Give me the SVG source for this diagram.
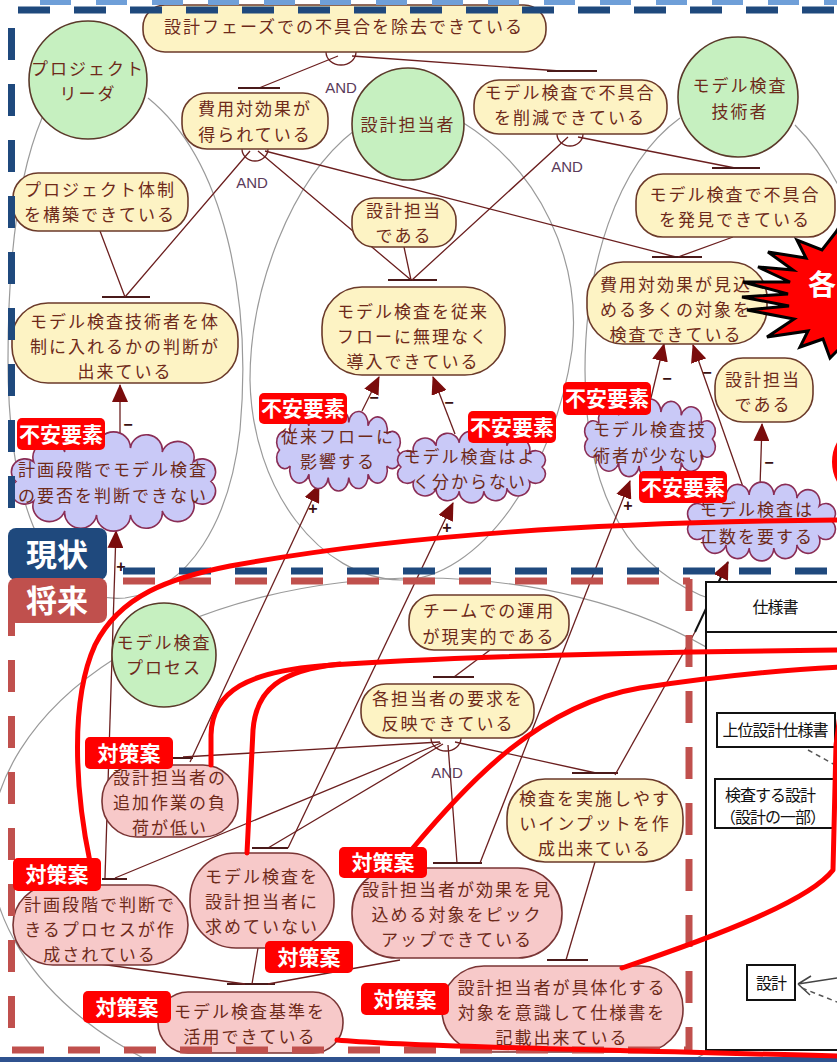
<svg xmlns="http://www.w3.org/2000/svg" xmlns:xlink="http://www.w3.org/1999/xlink" width="837" height="1062" viewBox="0 0 837 1062">
<style>
.g{fill:#fdf3c4;stroke:#6b3a2a;stroke-width:1.6}
.p{fill:#f7c9c9;stroke:#7a3535;stroke-width:1.6}
.c{fill:#c9c9f7;stroke:#8a2d55;stroke-width:1.6}
.a{fill:#c6f0c0;stroke:#5a3a2a;stroke-width:1.6}
.t{font-family:"Noto Sans CJK JP","Noto Sans",sans-serif;font-size:17px;fill:#6e2a1a;text-anchor:middle;letter-spacing:2px}
.bd{fill:none;stroke:#9a9a9a;stroke-width:1.2}
.ln{fill:none;stroke:#6b1f1f;stroke-width:1.3}
.bar{stroke:#4a1a1a;stroke-width:1.8}
.ct{fill:none;stroke:#6b1f1f;stroke-width:1.3;marker-end:url(#arr)}
.and{font-family:"Liberation Sans",sans-serif;font-size:15px;fill:#5a3a5a;text-anchor:middle}
.tk{font-family:"Liberation Sans",sans-serif;font-size:16px;font-weight:bold;fill:#3a1010;text-anchor:middle}
.red{fill:none;stroke:#ff0000;stroke-width:5;stroke-linecap:round;stroke-linejoin:round}
.lb{fill:#ff0000}
.lt{font-family:"Noto Sans CJK JP",sans-serif;font-size:21px;font-weight:bold;fill:#fff;text-anchor:middle}
.bl{stroke:#1f497d;stroke-width:7;stroke-dasharray:32 24;fill:none}
.rb{stroke:#c0504d;stroke-width:7;stroke-dasharray:32 24;fill:none}
.st{font-family:"Noto Sans CJK JP",sans-serif;font-size:16px;fill:#111;letter-spacing:-1px}
</style>
<defs>
<marker id="arr" viewBox="0 0 18 16" refX="17" refY="8" markerWidth="18" markerHeight="16" markerUnits="userSpaceOnUse" orient="auto"><path d="M0,0 L18,8 L0,16 Z" fill="#7a0c0c"/></marker>
<path id="cloud" vector-effect="non-scaling-stroke" d="M 196 50 A 1 1 0 0 1 178.6 70.1 A 1 1 0 0 1 148 80.3 A 1 1 0 0 1 116.7 84.5 A 1 1 0 0 1 83.3 84.5 A 1 1 0 0 1 52 80.3 A 1 1 0 0 1 21.4 70.1 A 1 1 0 0 1 4 50 A 1 1 0 0 1 21.4 29.9 A 1 1 0 0 1 52 19.7 A 1 1 0 0 1 83.3 15.5 A 1 1 0 0 1 116.7 15.5 A 1 1 0 0 1 148 19.7 A 1 1 0 0 1 178.6 29.9 A 1 1 0 0 1 196 50 Z"/>
</defs>
<rect x="0" y="0" width="837" height="1062" fill="#fff"/>

<g id="boundaries">
<path class="bd" d="M 148 98 C 225 160, 252 300, 240 430 C 230 520, 190 590, 125 598 C 55 605, 8 520, 8 360 C 8 250, 20 170, 42 118"/>
<path class="bd" d="M 355 130 C 290 180, 250 290, 250 380 C 252 490, 320 578, 400 580 C 480 580, 555 470, 572 350 C 582 260, 540 170, 462 122"/>
<path class="bd" d="M 680 118 C 615 165, 585 270, 585 370 C 585 480, 620 560, 700 595 C 760 620, 837 610, 900 560"/>
<path class="bd" d="M 795 125 C 820 150, 837 180, 850 210"/>
<ellipse class="bd" cx="420" cy="850" rx="430" ry="272"/>
</g>

<g id="connectors">
<path class="ln" d="M 326 52 A 15 13 0 0 0 356 52"/>
<path class="ln" d="M 338 56 L 259 88 M 352 56 L 560 71"/>
<path class="bar" d="M 238 88 H 280 M 547 71 H 597"/>
<path class="ln" d="M 242 149 A 13 12 0 0 0 268 149"/>
<path class="ln" d="M 250 151 L 125 297 M 258 151 L 411 280 M 265 151 L 676 257"/>
<path class="bar" d="M 102 297 H 150 M 388 280 H 437 M 652 257 H 702"/>
<path class="ln" d="M 100 231 L 125 297 M 404 247 L 411 280"/>
<path class="ln" d="M 557 134 A 13 12 0 0 0 583 134"/>
<path class="ln" d="M 568 137 L 412 280 M 578 137 L 735 168 M 733 237 L 678 257"/>
<path class="bar" d="M 712 168 H 760"/>
<path class="ln" d="M 490 650 L 454 677"/>
<path class="bar" d="M 433 677 H 474"/>
<path class="ln" d="M 431 738 A 15 13 0 0 0 461 738"/>
<path class="ln" d="M 440 742 L 183 757 M 441 743 L 115 878 M 443 744 L 268 848 M 448 745 L 457 863 M 455 742 L 596 773"/>
<path class="bar" d="M 173 758 H 193 M 102 879 H 127 M 252 848 H 288 M 433 863 H 482 M 572 773 H 618"/>
<path class="ln" d="M 595 862 L 566 960"/>
<path class="bar" d="M 547 960 H 588 M 227 984 H 275"/>
<path class="ln" d="M 100 964 L 245 984 M 258 948 L 252 984 M 400 960 L 268 984"/>
<path class="ct" d="M 120 434 L 120 385"/>
<path class="ct" d="M 105 878 L 116 531"/>
<path class="ct" d="M 362 411 L 379 377"/>
<path class="ct" d="M 190 762 L 319 485"/>
<path class="ct" d="M 455 434 L 433 377"/>
<path class="ct" d="M 288 848 L 453 503"/>
<path class="ct" d="M 650 402 L 664 344"/>
<path class="ct" d="M 480 863 L 630 481"/>
<path class="ct" d="M 743 487 L 693 345"/>
<path class="ct" d="M 760 487 L 762 424"/>
<path class="ln" d="M 615 775 L 695 632"/>
<path d="M 695 632 L 728 562" fill="none" stroke="#111" stroke-width="2" marker-end="url(#arr)"/>
<text class="and" x="341" y="93">AND</text>
<text class="and" x="252" y="188">AND</text>
<text class="and" x="567" y="172">AND</text>
<text class="and" x="447" y="778">AND</text>
<text class="tk" x="128" y="430">−</text>
<text class="tk" x="121" y="572">+</text>
<text class="tk" x="374" y="403">−</text>
<text class="tk" x="313" y="514">+</text>
<text class="tk" x="449" y="408">−</text>
<text class="tk" x="447" y="533">+</text>
<text class="tk" x="667" y="384">−</text>
<text class="tk" x="628" y="511">+</text>
<text class="tk" x="707" y="378">−</text>
<text class="tk" x="769" y="468">−</text>
</g>

<g id="actor-leader"><circle class="a" cx="88" cy="80" r="59"/><text class="t"><tspan x="88" y="75">プロジェクト</tspan><tspan x="88" y="100">リーダ</tspan></text></g>
<g id="actor-designer"><circle class="a" cx="408" cy="124" r="56"/><text class="t" x="408" y="131">設計担当者</text></g>
<g id="actor-engineer"><circle class="a" cx="738" cy="97" r="60"/><text class="t"><tspan x="740" y="92">モデル検査</tspan><tspan x="740" y="118">技術者</tspan></text></g>
<g id="actor-process"><circle class="a" cx="164" cy="655" r="52"/><text class="t"><tspan x="164" y="649">モデル検査</tspan><tspan x="164" y="674">プロセス</tspan></text></g>

<g id="g1"><rect class="g" x="143" y="5" width="403" height="47" rx="22"/><text class="t" x="344" y="33">設計フェーズでの不具合を除去できている</text></g>
<g id="g2"><rect class="g" x="182" y="93" width="146" height="56" rx="25"/><text class="t"><tspan x="255" y="115">費用対効果が</tspan><tspan x="255" y="141">得られている</tspan></text></g>
<g id="g3"><rect class="g" x="474" y="80" width="193" height="54" rx="25"/><text class="t"><tspan x="570" y="99">モデル検査で不具合</tspan><tspan x="570" y="124">を削減できている</tspan></text></g>
<g id="g4"><rect class="g" x="13" y="173" width="175" height="58" rx="25"/><text class="t"><tspan x="100" y="196">プロジェクト体制</tspan><tspan x="100" y="221">を構築できている</tspan></text></g>
<g id="g5"><rect class="g" x="352" y="198" width="104" height="49" rx="22"/><text class="t"><tspan x="404" y="217">設計担当</tspan><tspan x="404" y="242">である</tspan></text></g>
<g id="g6"><rect class="g" x="636" y="174" width="199" height="63" rx="27"/><text class="t"><tspan x="735" y="201">モデル検査で不具合</tspan><tspan x="735" y="226">を発見できている</tspan></text></g>
<g id="g7"><rect class="g" x="12" y="303" width="226" height="80" rx="36"/><text class="t"><tspan x="125" y="328">モデル検査技術者を体</tspan><tspan x="125" y="353">制に入れるかの判断が</tspan><tspan x="125" y="378">出来ている</tspan></text></g>
<g id="g8"><rect class="g" x="322" y="287" width="183" height="88" rx="40"/><text class="t"><tspan x="413" y="318">モデル検査を従来</tspan><tspan x="413" y="343">フローに無理なく</tspan><tspan x="413" y="368">導入できている</tspan></text></g>
<g id="g9"><rect class="g" x="587" y="262" width="180" height="82" rx="36"/><text class="t"><tspan x="676" y="291">費用対効果が見込</tspan><tspan x="676" y="316">める多くの対象を</tspan><tspan x="676" y="341">検査できている</tspan></text></g>
<g id="g10"><rect class="g" x="715" y="358" width="98" height="64" rx="28"/><text class="t"><tspan x="763" y="386">設計担当</tspan><tspan x="763" y="411">である</tspan></text></g>
<g id="g11"><rect class="g" x="409" y="595" width="160" height="55" rx="25"/><text class="t"><tspan x="489" y="617">チームでの運用</tspan><tspan x="489" y="643">が現実的である</tspan></text></g>
<g id="g12"><rect class="g" x="361" y="684" width="173" height="54" rx="25"/><text class="t"><tspan x="448" y="705">各担当者の要求を</tspan><tspan x="448" y="730">反映できている</tspan></text></g>
<g id="g13"><rect class="g" x="507" y="779" width="176" height="83" rx="38"/><text class="t"><tspan x="595" y="805">検査を実施しやす</tspan><tspan x="595" y="830">いインプットを作</tspan><tspan x="595" y="855">成出来ている</tspan></text></g>

<g id="s14"><rect class="p" x="102" y="765" width="136" height="72" rx="35"/><text class="t"><tspan x="170" y="784">設計担当者の</tspan><tspan x="170" y="809">追加作業の負</tspan><tspan x="170" y="834">荷が低い</tspan></text></g>
<g id="s15"><rect class="p" x="13" y="885" width="175" height="80" rx="40"/><text class="t"><tspan x="100" y="911">計画段階で判断で</tspan><tspan x="100" y="936">きるプロセスが作</tspan><tspan x="100" y="961">成されている</tspan></text></g>
<g id="s16"><rect class="p" x="190" y="853" width="144" height="95" rx="46"/><text class="t"><tspan x="262" y="883">モデル検査を</tspan><tspan x="262" y="908">設計担当者に</tspan><tspan x="262" y="933">求めていない</tspan></text></g>
<g id="s17"><rect class="p" x="352" y="868" width="210" height="90" rx="44"/><text class="t"><tspan x="457" y="896">設計担当者が効果を見</tspan><tspan x="457" y="921">込める対象をピック</tspan><tspan x="457" y="946">アップできている</tspan></text></g>
<g id="s18"><rect class="p" x="158" y="992" width="185" height="61" rx="30"/><text class="t"><tspan x="250" y="1018">モデル検査基準を</tspan><tspan x="250" y="1043">活用できている</tspan></text></g>
<g id="s19"><rect class="p" x="442" y="966" width="241" height="86" rx="42"/><text class="t"><tspan x="562" y="994">設計担当者が具体化する</tspan><tspan x="562" y="1019">対象を意識して仕様書を</tspan><tspan x="562" y="1044">記載出来ている</tspan></text></g>

<g id="c20"><use href="#cloud" class="c" transform="translate(12 433) scale(1.015 0.97)"/><text class="t"><tspan x="113" y="476">計画段階でモデル検査</tspan><tspan x="113" y="502">の要否を判断できない</tspan></text></g>
<g id="c21"><use href="#cloud" class="c" transform="translate(277 410) scale(0.615 0.8)"/><text class="t"><tspan x="338" y="443">従来フローに</tspan><tspan x="338" y="468">影響する</tspan></text></g>
<g id="c22"><use href="#cloud" class="c" transform="translate(398 432) scale(0.735 0.7)"/><text class="t"><tspan x="470" y="463">モデル検査はよ</tspan><tspan x="470" y="488">く分からない</tspan></text></g>
<g id="c23"><use href="#cloud" class="c" transform="translate(585 400) scale(0.65 0.78)"/><text class="t"><tspan x="650" y="436">モデル検査技</tspan><tspan x="650" y="462">術者が少ない</tspan></text></g>
<g id="c24"><use href="#cloud" class="c" transform="translate(688 483) scale(0.735 0.77)"/><text class="t"><tspan x="757" y="516">モデル検査は</tspan><tspan x="757" y="543">工数を要する</tspan></text></g>

<g id="spec">
<rect x="706" y="582" width="220" height="468" fill="#fff" stroke="#111" stroke-width="2"/>
<line x1="706" y1="632" x2="837" y2="632" stroke="#111" stroke-width="2"/>
<text class="st" x="775" y="613" text-anchor="middle">仕様書</text>
<rect x="717" y="713" width="118" height="34" fill="#fff" stroke="#111" stroke-width="2"/>
<text class="st" x="775" y="736" text-anchor="middle">上位設計仕様書</text>
<rect x="715" y="779" width="120" height="49" fill="#fff" stroke="#111" stroke-width="2"/>
<text class="st" x="725" y="801" font-size="15">検査する設計</text>
<text class="st" x="720" y="823" font-size="14">（設計の一部）</text>
<rect x="747" y="965" width="48" height="35" fill="#fff" stroke="#111" stroke-width="2"/>
<text class="st" x="771" y="989" text-anchor="middle">設計</text>
<path d="M 808 750 L 837 766" stroke="#555" stroke-width="1.5" stroke-dasharray="5 4" fill="none"/>
<path d="M 798 984 L 837 978 M 798 984 L 811 976 M 798 984 L 810 995" stroke="#444" stroke-width="1.5" fill="none"/>
<path d="M 802 988 L 837 1002" stroke="#555" stroke-width="1.5" stroke-dasharray="5 4" fill="none"/>
</g>

<g id="frames">
<line x1="40" y1="2.5" x2="837" y2="2.5" stroke="#6f9fd8" stroke-width="5" stroke-dasharray="31 25"/>
<line x1="18" y1="10" x2="837" y2="10" class="bl" stroke-dasharray="31 25"/>
<line x1="11.5" y1="28" x2="11.5" y2="528" class="bl"/>
<line x1="123" y1="571" x2="837" y2="571" class="bl"/>
<line x1="123" y1="581" x2="690" y2="581" class="rb"/>
<line x1="689" y1="579" x2="689" y2="1050" class="rb" stroke-dasharray="31 25"/>
<line x1="11.5" y1="604" x2="11.5" y2="1050" class="rb"/>
<line x1="12" y1="1050" x2="690" y2="1050" class="rb"/>
<rect x="0" y="1057" width="837" height="5" fill="#2f528f"/>
</g>

<g id="annotations">
<path class="red" d="M 90 862 C 75 790, 70 700, 95 645 C 120 595, 170 578, 230 566 C 400 535, 600 522, 840 520"/>
<path class="red" d="M 211 765 L 211 735 C 212 690, 250 672, 320 666 C 450 656, 650 652, 840 650"/>
<path class="red" d="M 247 853 L 253 730 C 256 690, 280 670, 340 664"/>
<path class="red" d="M 413 848 C 470 780, 540 705, 640 688 C 720 676, 780 670, 840 667"/>
<path class="red" d="M 622 968 C 720 935, 810 900, 833 870 L 836 745 L 842 700"/>
<path class="red" d="M 337 1040 C 400 1046, 600 1050, 840 1056"/>
</g>

<g id="labels">
<rect class="lb" x="17" y="418" width="88" height="32" rx="5"/><text class="lt" x="61" y="442">不安要素</text>
<rect class="lb" x="259" y="393" width="88" height="31" rx="5"/><text class="lt" x="303" y="416">不安要素</text>
<rect class="lb" x="468" y="411" width="88" height="32" rx="5"/><text class="lt" x="512" y="435">不安要素</text>
<rect class="lb" x="563" y="382" width="88" height="33" rx="5"/><text class="lt" x="607" y="406">不安要素</text>
<rect class="lb" x="639" y="471" width="88" height="32" rx="5"/><text class="lt" x="683" y="495">不安要素</text>
<rect class="lb" x="85" y="737" width="88" height="32" rx="5"/><text class="lt" x="129" y="761">対策案</text>
<rect class="lb" x="13" y="858" width="88" height="33" rx="5"/><text class="lt" x="57" y="882">対策案</text>
<rect class="lb" x="339" y="847" width="88" height="31" rx="5"/><text class="lt" x="383" y="870">対策案</text>
<rect class="lb" x="265" y="941" width="88" height="32" rx="5"/><text class="lt" x="309" y="965">対策案</text>
<rect class="lb" x="83" y="991" width="88" height="32" rx="5"/><text class="lt" x="127" y="1015">対策案</text>
<rect class="lb" x="361" y="983" width="88" height="32" rx="5"/><text class="lt" x="405" y="1007">対策案</text>
</g>

<g id="phase-now"><rect x="8" y="528" width="99" height="52" rx="8" fill="#1f497d"/><text x="57" y="566" font-family="Noto Sans CJK JP,sans-serif" font-size="31" font-weight="bold" fill="#fff" text-anchor="middle">現状</text></g>
<g id="phase-future"><rect x="8" y="578" width="99" height="45" rx="8" fill="#c0504d"/><text x="57" y="612" font-family="Noto Sans CJK JP,sans-serif" font-size="31" font-weight="bold" fill="#fff" text-anchor="middle">将来</text></g>

<g id="burst">
<polygon points="848,212 836,232 822,250 797,240 806,258 768,252 793,270 758,267 790,282 743,282 788,294 742,297 789,306 747,310 794,319 767,337 808,331 800,347 823,339 830,358 842,346 870,390 900,390 900,212" fill="#ff0000" stroke="#000" stroke-width="3"/>
<text x="808" y="295" font-family="Noto Sans CJK JP,sans-serif" font-size="28" font-weight="bold" fill="#fff">各</text>
<circle cx="873" cy="462" r="42" fill="#ff0000" stroke="#fff" stroke-width="2"/>
</g>
</svg>
